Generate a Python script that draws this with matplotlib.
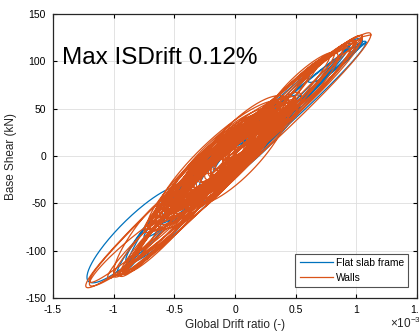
import numpy as np
import matplotlib.pyplot as plt
from matplotlib.ticker import FuncFormatter

plt.rcParams['font.family'] = ['Liberation Sans', 'DejaVu Sans']
plt.rcParams['axes.unicode_minus'] = False
plt.rcParams['mathtext.fontset'] = 'custom'
plt.rcParams['mathtext.rm'] = 'Liberation Sans'

# --- Data: hysteresis cycles ---
# each cycle: (drift at neg peak [1e-3], shear at neg peak [kN],
#              drift at pos peak [1e-3], shear at pos peak [kN], half-width [kN])
frame_cycles = [
    (-1.22, -128, -0.42, -38, 24),
    (-0.97, -122, -0.50, -40, 8),
    (-0.90, -118, -0.45, -30, 12),
    (-0.90, -110, 0.30, 35, 22),
    (-0.75, -85, 1.08, 120, 16),
    (-0.60, -70, 1.00, 115, 12),
    (-0.50, -55, 0.90, 112, 14),
    (-0.45, -50, 0.45, 52, 24),
    (-0.30, -35, 0.30, 35, 18),
    (-0.20, -25, 0.55, 60, 20),
    (0.00, 0, 0.95, 118, 12),
    (0.15, 20, 0.40, 35, 10),
    (0.60, 80, 1.05, 122, 10),
]

wall_outer = [
    (-1.23, -137, 1.12, 128, 24),
    (-1.20, -132, 1.05, 126, 20),
    (-1.00, -126, 0.98, 120, 22),
    (-0.93, -122, 0.90, 115, 16),
    (-0.88, -118, 0.82, 108, 20),
    (-0.85, -112, 0.70, 100, 14),
    (-0.80, -105, 0.78, 105, 18),
    (-0.78, -98, 0.62, 88, 14),
    (-0.95, -125, -0.30, -40, 14),
    (-0.90, -120, -0.20, -30, 16),
    (-1.20, -135, -0.40, -55, 14),
    (-1.05, -128, -0.50, -60, 10),
    (-1.00, -122, -0.55, -50, 18),
    (-0.92, -124, -0.35, -55, 8),
    (0.20, 20, 1.00, 120, 14),
    (0.30, 35, 0.90, 115, 10),
    (0.10, 10, 1.05, 125, 16),
    (0.40, 50, 0.95, 112, 12),
    (0.25, 40, 0.85, 105, 18),
]

wall_core = [
    (-0.75, -78, 0.50, 60, 20),
    (-0.72, -72, 0.45, 55, 28),
    (-0.70, -70, 0.48, 58, 14),
    (-0.68, -66, 0.42, 52, 24),
    (-0.66, -64, 0.40, 50, 32),
    (-0.64, -62, 0.44, 54, 18),
    (-0.62, -60, 0.38, 46, 26),
    (-0.60, -57, 0.36, 44, 12),
    (-0.58, -55, 0.40, 48, 22),
    (-0.56, -52, 0.34, 42, 30),
    (-0.54, -50, 0.32, 40, 16),
    (-0.52, -48, 0.35, 43, 24),
    (-0.50, -46, 0.30, 38, 20),
    (-0.48, -44, 0.28, 36, 28),
    (-0.46, -42, 0.30, 37, 14),
    (-0.44, -40, 0.26, 33, 22),
    (-0.42, -38, 0.25, 32, 18),
    (-0.40, -36, 0.28, 35, 26),
    (-0.38, -34, 0.22, 28, 12),
    (-0.36, -32, 0.24, 30, 20),
    (-0.34, -30, 0.20, 26, 16),
    (-0.32, -28, 0.22, 28, 24),
    (-0.30, -26, 0.18, 24, 10),
    (-0.28, -24, 0.16, 22, 18),
    (-0.25, -21, 0.15, 20, 14),
    (-0.22, -18, 0.12, 17, 12),
    (-0.20, -16, 0.10, 15, 16),
    (-0.16, -12, 0.08, 12, 10),
    (-0.60, -60, 0.10, 15, 20),
    (-0.70, -75, -0.10, -5, 18),
    (-0.50, -50, 0.00, 5, 15),
    (-0.20, -15, 0.50, 58, 20),
    (-0.10, -5, 0.45, 52, 15),
    (0.00, 5, 0.55, 62, 18),
    (-0.65, -68, 0.20, 25, 30),
    (-0.40, -40, 0.45, 52, 35),
    (-0.74, -76, -0.20, -20, 10),
    (-0.66, -70, -0.05, 0, 8),
    (-0.58, -60, 0.05, 10, 6),
    (-0.48, -48, 0.15, 20, 9),
    (-0.38, -38, 0.25, 30, 7),
    (-0.28, -26, 0.35, 42, 9),
    (-0.18, -14, 0.42, 50, 7),
    (-0.08, -2, 0.48, 56, 9),
    (-0.55, -55, 0.25, 32, 10),
    (-0.45, -45, 0.35, 42, 6),
    (-0.35, -32, 0.40, 48, 11),
    (-0.62, -64, 0.30, 36, 8),
    (-0.70, -72, 0.38, 48, 10),
    (-0.52, -54, -0.10, -6, 12),
    (-0.05, 0, 0.38, 46, 12),
]

x_ticks = [-1.5e-3, -1e-3, -0.5e-3, 0, 0.5e-3, 1e-3, 1.5e-3]
y_ticks = [-150, -100, -50, 0, 50, 100, 150]

BLUE = '#0072BD'
ORANGE = '#D95319'


def cycle_path(c, n=200):
    xn, yn, xp, yp, w = c
    t = np.linspace(0, 2 * np.pi, n)
    xc, yc = (xn + xp) / 2, (yn + yp) / 2
    dx, dy = (xp - xn) / 2, (yp - yn) / 2
    x = (xc + dx * np.cos(t)) * 1e-3
    y = yc + dy * np.cos(t) + w * np.sin(t)
    return x, y


def series(cycles):
    xs, ys = [], []
    for c in cycles:
        x, y = cycle_path(c)
        xs.append(x)
        ys.append(y)
    return np.concatenate(xs), np.concatenate(ys)


fig = plt.figure(figsize=(4.19, 3.31), dpi=100)
ax = fig.add_axes([53 / 419, 33 / 331, 364 / 419, 284 / 331])

fx, fy = series(frame_cycles)
wx, wy = series(wall_outer + wall_core)
ax.plot(fx, fy, color=BLUE, lw=0.9, label='Flat slab frame')
ax.plot(wx, wy, color=ORANGE, lw=0.9, label='Walls')

ax.set_xlim(-1.5e-3, 1.5e-3)
ax.set_ylim(-150, 150)
ax.set_xticks(x_ticks)
ax.set_yticks(y_ticks)
ax.xaxis.set_major_formatter(FuncFormatter(lambda v, p: f'{v * 1e3:g}'))

ax.grid(True, color='#DEDEDE', lw=0.6)
ax.set_axisbelow(True)
ax.tick_params(direction='in', top=True, right=True, length=3, labelsize=7.5,
               width=0.8, pad=5)
for s in ax.spines.values():
    s.set_linewidth(0.9)
    s.set_color('#262626')

ax.set_xlabel('Global Drift ratio (-)', fontsize=8.5, labelpad=3, color='#262626')
ax.set_ylabel('Base Shear (kN)', fontsize=8.5, labelpad=6, color='#262626')
fig.text(390 / 419, 1 - 316 / 331, r'$\times10^{-3}$', fontsize=8.5, va='top',
         ha='left', color='#262626')

ax.text(-1.426e-3, 103, 'Max ISDrift 0.12%', fontsize=17.5, va='center', ha='left')

leg = ax.legend(loc='lower right', bbox_to_anchor=(0.976, 0.038), borderaxespad=0,
                fontsize=7.4, frameon=True, fancybox=False, edgecolor='#262626',
                handlelength=3.3, handletextpad=0.25, borderpad=0.4)
leg.get_frame().set_linewidth(0.8)

fig.savefig('out.png', dpi=100)
